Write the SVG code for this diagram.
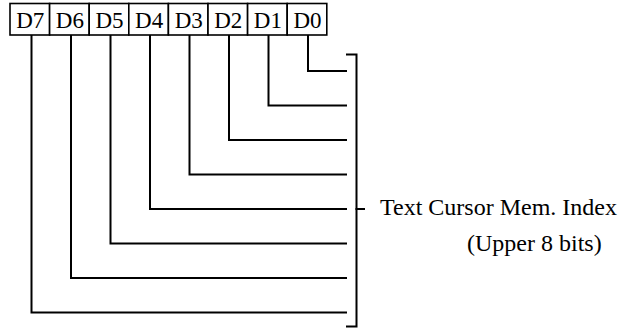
<svg xmlns="http://www.w3.org/2000/svg" width="635" height="329" viewBox="0 0 635 329">
<style>
.box{fill:#fff;stroke:#000;stroke-width:1.6}
.bt{font-family:"Liberation Serif","Times New Roman",serif;font-size:23px;fill:#000;text-anchor:middle}
.lb{font-family:"Liberation Serif","Times New Roman",serif;font-size:24px;fill:#000}
.wire{fill:none;stroke:#000;stroke-width:2;stroke-linejoin:miter;stroke-linecap:square}
</style>
<rect width="635" height="329" fill="#fff"/>
<g id="bit-D7"><rect class="box" x="10" y="3.5" width="39.6" height="31.5"/><text class="bt" x="30.3" y="28">D7</text></g>
<g id="bit-D6"><rect class="box" x="49.6" y="3.5" width="39.6" height="31.5"/><text class="bt" x="69.9" y="28">D6</text></g>
<g id="bit-D5"><rect class="box" x="89.2" y="3.5" width="39.6" height="31.5"/><text class="bt" x="109.5" y="28">D5</text></g>
<g id="bit-D4"><rect class="box" x="128.8" y="3.5" width="39.6" height="31.5"/><text class="bt" x="149.1" y="28">D4</text></g>
<g id="bit-D3"><rect class="box" x="168.4" y="3.5" width="39.6" height="31.5"/><text class="bt" x="188.7" y="28">D3</text></g>
<g id="bit-D2"><rect class="box" x="208" y="3.5" width="39.6" height="31.5"/><text class="bt" x="228.3" y="28">D2</text></g>
<g id="bit-D1"><rect class="box" x="247.6" y="3.5" width="39.6" height="31.5"/><text class="bt" x="267.9" y="28">D1</text></g>
<g id="bit-D0"><rect class="box" x="287.2" y="3.5" width="39.6" height="31.5"/><text class="bt" x="307.5" y="28">D0</text></g>
<g id="connectors">
<path class="wire" d="M308 36 V71 H346"/>
<path class="wire" d="M268.5 36 V105.5 H346"/>
<path class="wire" d="M229 36 V140 H346"/>
<path class="wire" d="M189.5 36 V174.5 H346"/>
<path class="wire" d="M150 36 V209 H346"/>
<path class="wire" d="M110.5 36 V243.5 H346"/>
<path class="wire" d="M71 36 V278 H346"/>
<path class="wire" d="M31.5 36 V312.5 H346"/>
</g>
<g id="bracket">
<path class="wire" d="M347 54.5 H356.5 V326.5 H347"/>
<path class="wire" d="M356.5 209 H364"/>
</g>
<g id="label">
<text class="lb" x="380" y="215">Text Cursor Mem. Index</text>
<text class="lb" x="467" y="251">(Upper 8 bits)</text>
</g>
</svg>
